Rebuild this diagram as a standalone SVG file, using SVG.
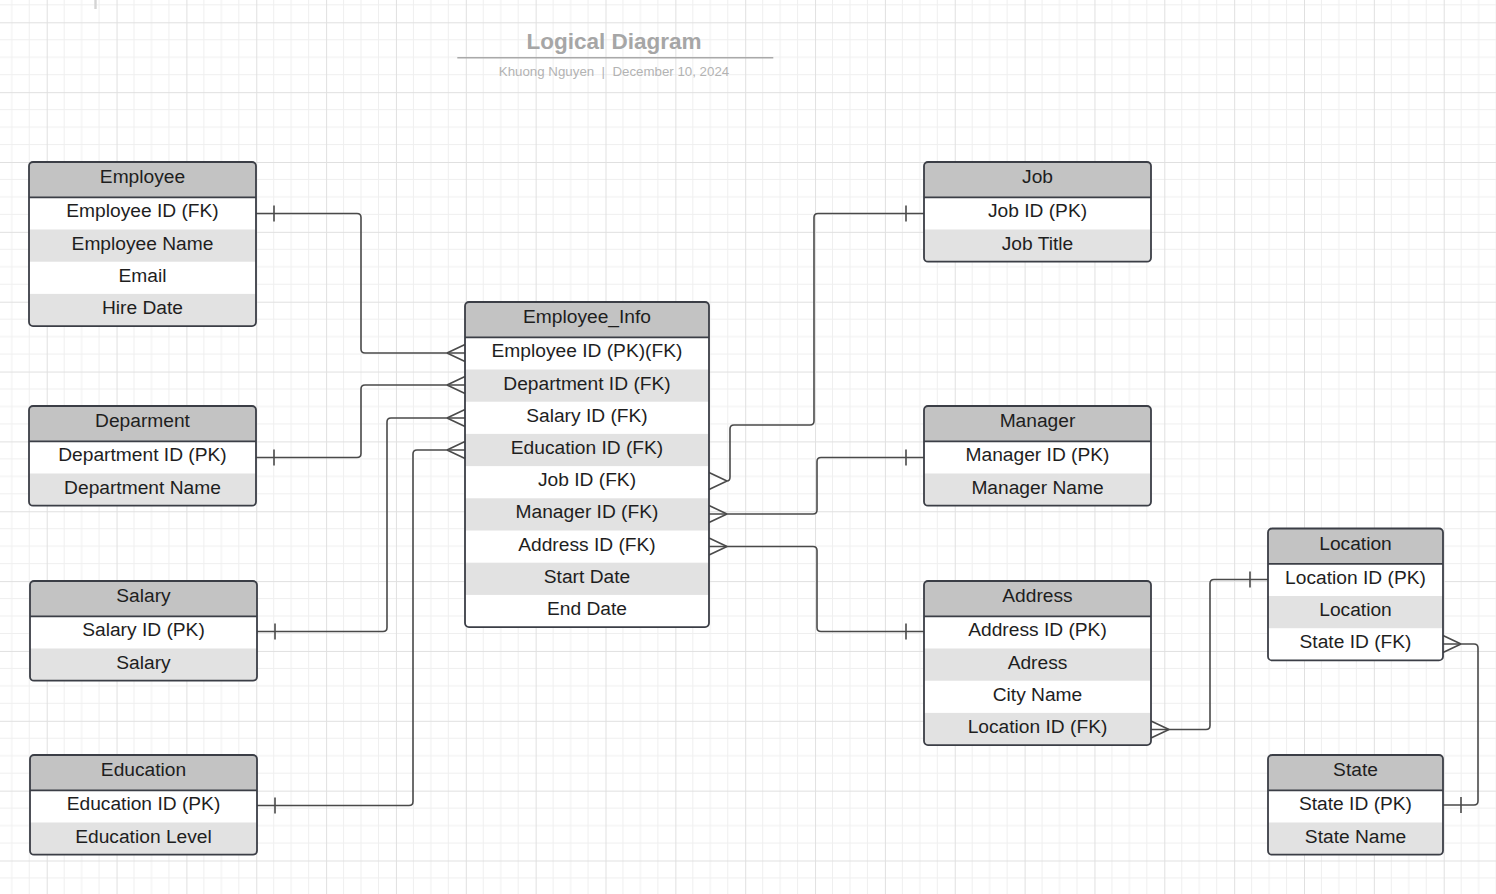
<svg xmlns="http://www.w3.org/2000/svg" width="1496" height="894" viewBox="0 0 1496 894">
<defs>
<pattern id="grid" patternUnits="userSpaceOnUse" x="46.7" y="22.3" width="69.85" height="69.85">
<path d="M17.46,0V69.85M34.92,0V69.85M52.39,0V69.85M0,17.46H69.85M0,34.92H69.85M0,52.39H69.85" stroke="#efefef" stroke-width="1" fill="none"/>
<path d="M0.5,0V69.85M0,0.5H69.85" stroke="#e0e0e0" stroke-width="1" fill="none"/>
</pattern>
<clipPath id="c227x2"><rect width="227" height="99.7" rx="4"/></clipPath>
<clipPath id="c227x4"><rect width="227" height="164.1" rx="4"/></clipPath>
<clipPath id="c175x2"><rect width="175" height="99.7" rx="4"/></clipPath>
<clipPath id="c175x3"><rect width="175" height="131.9" rx="4"/></clipPath>
<clipPath id="c244x9"><rect width="244" height="325.1" rx="4"/></clipPath>
</defs>
<style>
.bg{fill:#ffffff}
.hdr{fill:#c3c3c3}
.alt{fill:#e2e2e2}
.frame{fill:none;stroke:#3b3e46;stroke-width:1.8}
.div{stroke:#3b3e46;stroke-width:1.8}
.t{font-family:"Liberation Sans",Arial,sans-serif;font-size:19.2px;fill:#1e1e1e;text-anchor:middle}
.conn path{fill:none;stroke:#4a4a4a;stroke-width:1.6;stroke-linecap:butt;stroke-linejoin:round}
</style>
<rect width="1496" height="894" fill="#ffffff"/>
<rect width="1496" height="894" fill="url(#grid)"/>
<rect x="94.3" y="0" width="2.4" height="9" fill="#d4d4d4"/>

<g id="title">
<text x="614" y="48.5" style="font-family:'Liberation Sans',Arial,sans-serif;font-size:22.5px;font-weight:bold;fill:#a6a6a6;text-anchor:middle">Logical Diagram</text>
<line x1="457.3" y1="57.7" x2="773.3" y2="57.7" stroke="#a9a9a9" stroke-width="1.5"/>
<text x="614" y="75.5" style="font-family:'Liberation Sans',Arial,sans-serif;font-size:13.3px;fill:#b3b3b3;text-anchor:middle;white-space:pre" xml:space="preserve">Khuong Nguyen  |  December 10, 2024</text>
</g>

<g id="connectors" class="conn">
<path d="M256,213.5H357Q361,213.5 361,217.5V349Q361,353 365,353H465"/>
<path d="M274,205.5V221.5M447,353L465,344.5M447,353L465,361.5"/>
<path d="M256,457.5H357Q361,457.5 361,453.5V389Q361,385 365,385H465"/>
<path d="M274,449.5V465.5M447,385L465,376.5M447,385L465,393.5"/>
<path d="M257,631.5H383Q387,631.5 387,627.5V422Q387,418 391,418H465"/>
<path d="M275,623.5V639.5M447,418L465,409.5M447,418L465,426.5"/>
<path d="M257,805.5H409Q413,805.5 413,801.5V454Q413,450 417,450H465"/>
<path d="M275,797.5V813.5M447,450L465,441.5M447,450L465,458.5"/>
<path d="M924,213.5H818Q814,213.5 814,217.5V421Q814,425 810,425H734Q730,425 730,429V477Q730,481 727,481"/>
<path d="M906,205.5V221.5M727,481L709,472.5M727,481L709,489.5"/>
<path d="M924,457.5H821Q817,457.5 817,461.5V510Q817,514 813,514H709"/>
<path d="M906,449.5V465.5M727,514L709,505.5M727,514L709,522.5"/>
<path d="M709,546.5H813Q817,546.5 817,550.5V627.5Q817,631.5 821,631.5H924"/>
<path d="M906,623.5V639.5M727,546.5L709,538M727,546.5L709,555"/>
<path d="M1151,729.5H1206Q1210,729.5 1210,725.5V583.5Q1210,579.5 1214,579.5H1268"/>
<path d="M1250,571.5V587.5M1169,729.5L1151,721M1169,729.5L1151,738"/>
<path d="M1443,644H1474Q1478,644 1478,648V801Q1478,805 1474,805H1443"/>
<path d="M1461,797V813M1461,644L1443,635.5M1461,644L1443,652.5"/>
</g>

<g id="employee" transform="translate(29,162)">
<rect class="bg" width="227" height="164.1" rx="4"/>
<g clip-path="url(#c227x4)"><rect class="hdr" width="227" height="35.3"/><rect class="alt" y="67.5" width="227" height="32.2"/><rect class="alt" y="131.9" width="227" height="32.2"/></g>
<line class="div" x1="0" y1="35.3" x2="227" y2="35.3"/>
<rect class="frame" width="227" height="164.1" rx="4"/>
<text class="t" x="113.5" y="21.3">Employee</text>
<text class="t" x="113.5" y="55.3">Employee ID (FK)</text>
<text class="t" x="113.5" y="87.5">Employee Name</text>
<text class="t" x="113.5" y="119.7">Email</text>
<text class="t" x="113.5" y="151.9">Hire Date</text>
</g>

<g id="department" transform="translate(29,406)">
<rect class="bg" width="227" height="99.7" rx="4"/>
<g clip-path="url(#c227x2)"><rect class="hdr" width="227" height="35.3"/><rect class="alt" y="67.5" width="227" height="32.2"/></g>
<line class="div" x1="0" y1="35.3" x2="227" y2="35.3"/>
<rect class="frame" width="227" height="99.7" rx="4"/>
<text class="t" x="113.5" y="21.3">Deparment</text>
<text class="t" x="113.5" y="55.3">Department ID (PK)</text>
<text class="t" x="113.5" y="87.5">Department Name</text>
</g>

<g id="salary" transform="translate(30,581)">
<rect class="bg" width="227" height="99.7" rx="4"/>
<g clip-path="url(#c227x2)"><rect class="hdr" width="227" height="35.3"/><rect class="alt" y="67.5" width="227" height="32.2"/></g>
<line class="div" x1="0" y1="35.3" x2="227" y2="35.3"/>
<rect class="frame" width="227" height="99.7" rx="4"/>
<text class="t" x="113.5" y="21.3">Salary</text>
<text class="t" x="113.5" y="55.3">Salary ID (PK)</text>
<text class="t" x="113.5" y="87.5">Salary</text>
</g>

<g id="education" transform="translate(30,755)">
<rect class="bg" width="227" height="99.7" rx="4"/>
<g clip-path="url(#c227x2)"><rect class="hdr" width="227" height="35.3"/><rect class="alt" y="67.5" width="227" height="32.2"/></g>
<line class="div" x1="0" y1="35.3" x2="227" y2="35.3"/>
<rect class="frame" width="227" height="99.7" rx="4"/>
<text class="t" x="113.5" y="21.3">Education</text>
<text class="t" x="113.5" y="55.3">Education ID (PK)</text>
<text class="t" x="113.5" y="87.5">Education Level</text>
</g>

<g id="employee_info" transform="translate(465,302)">
<rect class="bg" width="244" height="325.1" rx="4"/>
<g clip-path="url(#c244x9)"><rect class="hdr" width="244" height="35.3"/><rect class="alt" y="67.5" width="244" height="32.2"/><rect class="alt" y="131.9" width="244" height="32.2"/><rect class="alt" y="196.3" width="244" height="32.2"/><rect class="alt" y="260.7" width="244" height="32.2"/></g>
<line class="div" x1="0" y1="35.3" x2="244" y2="35.3"/>
<rect class="frame" width="244" height="325.1" rx="4"/>
<text class="t" x="122" y="21.3">Employee_Info</text>
<text class="t" x="122" y="55.3">Employee ID (PK)(FK)</text>
<text class="t" x="122" y="87.5">Department ID (FK)</text>
<text class="t" x="122" y="119.7">Salary ID (FK)</text>
<text class="t" x="122" y="151.9">Education ID (FK)</text>
<text class="t" x="122" y="184.1">Job ID (FK)</text>
<text class="t" x="122" y="216.3">Manager ID (FK)</text>
<text class="t" x="122" y="248.5">Address ID (FK)</text>
<text class="t" x="122" y="280.7">Start Date</text>
<text class="t" x="122" y="312.9">End Date</text>
</g>

<g id="job" transform="translate(924,162)">
<rect class="bg" width="227" height="99.7" rx="4"/>
<g clip-path="url(#c227x2)"><rect class="hdr" width="227" height="35.3"/><rect class="alt" y="67.5" width="227" height="32.2"/></g>
<line class="div" x1="0" y1="35.3" x2="227" y2="35.3"/>
<rect class="frame" width="227" height="99.7" rx="4"/>
<text class="t" x="113.5" y="21.3">Job</text>
<text class="t" x="113.5" y="55.3">Job ID (PK)</text>
<text class="t" x="113.5" y="87.5">Job Title</text>
</g>

<g id="manager" transform="translate(924,406)">
<rect class="bg" width="227" height="99.7" rx="4"/>
<g clip-path="url(#c227x2)"><rect class="hdr" width="227" height="35.3"/><rect class="alt" y="67.5" width="227" height="32.2"/></g>
<line class="div" x1="0" y1="35.3" x2="227" y2="35.3"/>
<rect class="frame" width="227" height="99.7" rx="4"/>
<text class="t" x="113.5" y="21.3">Manager</text>
<text class="t" x="113.5" y="55.3">Manager ID (PK)</text>
<text class="t" x="113.5" y="87.5">Manager Name</text>
</g>

<g id="address" transform="translate(924,581)">
<rect class="bg" width="227" height="164.1" rx="4"/>
<g clip-path="url(#c227x4)"><rect class="hdr" width="227" height="35.3"/><rect class="alt" y="67.5" width="227" height="32.2"/><rect class="alt" y="131.9" width="227" height="32.2"/></g>
<line class="div" x1="0" y1="35.3" x2="227" y2="35.3"/>
<rect class="frame" width="227" height="164.1" rx="4"/>
<text class="t" x="113.5" y="21.3">Address</text>
<text class="t" x="113.5" y="55.3">Address ID (PK)</text>
<text class="t" x="113.5" y="87.5">Adress</text>
<text class="t" x="113.5" y="119.7">City Name</text>
<text class="t" x="113.5" y="151.9">Location ID (FK)</text>
</g>

<g id="location" transform="translate(1268,528.5)">
<rect class="bg" width="175" height="131.9" rx="4"/>
<g clip-path="url(#c175x3)"><rect class="hdr" width="175" height="35.3"/><rect class="alt" y="67.5" width="175" height="32.2"/></g>
<line class="div" x1="0" y1="35.3" x2="175" y2="35.3"/>
<rect class="frame" width="175" height="131.9" rx="4"/>
<text class="t" x="87.5" y="21.3">Location</text>
<text class="t" x="87.5" y="55.3">Location ID (PK)</text>
<text class="t" x="87.5" y="87.5">Location</text>
<text class="t" x="87.5" y="119.7">State ID (FK)</text>
</g>

<g id="state" transform="translate(1268,755)">
<rect class="bg" width="175" height="99.7" rx="4"/>
<g clip-path="url(#c175x2)"><rect class="hdr" width="175" height="35.3"/><rect class="alt" y="67.5" width="175" height="32.2"/></g>
<line class="div" x1="0" y1="35.3" x2="175" y2="35.3"/>
<rect class="frame" width="175" height="99.7" rx="4"/>
<text class="t" x="87.5" y="21.3">State</text>
<text class="t" x="87.5" y="55.3">State ID (PK)</text>
<text class="t" x="87.5" y="87.5">State Name</text>
</g>
</svg>
